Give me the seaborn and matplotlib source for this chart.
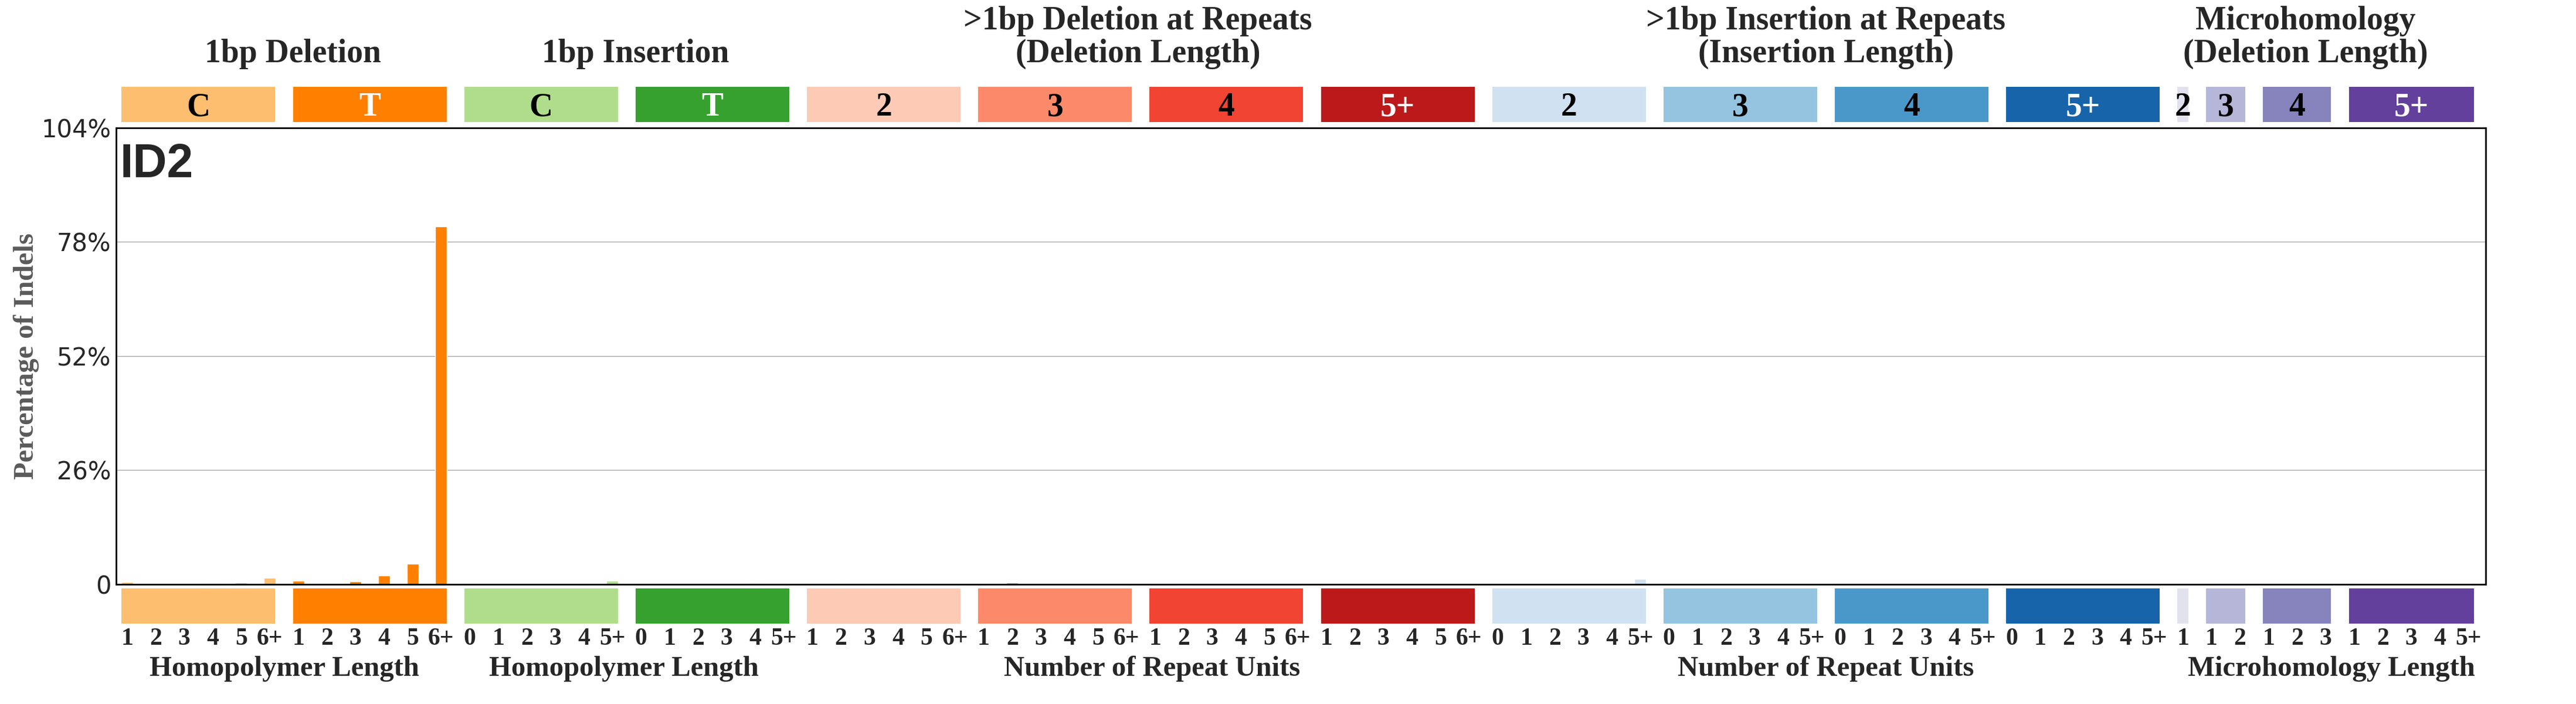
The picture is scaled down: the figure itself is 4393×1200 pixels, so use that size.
import numpy as np
import pandas as pd
import matplotlib
matplotlib.use('Agg')
import matplotlib.pyplot as plt
import matplotlib.transforms as mtransforms
from matplotlib.patches import Rectangle
import seaborn as sns

# === Datos (porcentaje de indels por canal, firma ID2) ===
del_1bp_C = [0.49, 0, 0, 0.22, 0.36, 1.42]
del_1bp_T = [0.76, 0, 0.62, 1.96, 4.62, 81.5]
ins_1bp_C = [0, 0, 0, 0, 0.13, 0.80]
ins_1bp_T = [0.05, 0, 0, 0.05, 0.27, 0.13]
del_rep_2 = [0, 0.27, 0.10, 0.10, 0.10, 0]
del_rep_3 = [0, 0.40, 0.13, 0, 0, 0]
del_rep_4 = [0, 0.13, 0, 0, 0, 0]
del_rep_5 = [0, 0.13, 0, 0, 0, 0]
ins_rep_2 = [0, 0, 0.07, 0, 0.07, 1.20]
ins_rep_3 = [0, 0.07, 0, 0, 0, 0.07]
ins_rep_4 = [0, 0.07, 0, 0, 0, 0.13]
ins_rep_5 = [0, 0, 0, 0, 0, 0]
mh_2 = [0]
mh_3 = [0, 0.13]
mh_4 = [0, 0, 0.07]
mh_5 = [0, 0, 0, 0, 0.13]

etiquetas_del = ['1', '2', '3', '4', '5', '6+']
etiquetas_ins = ['0', '1', '2', '3', '4', '5+']
etiquetas_mh = ['1', '2', '3', '4', '5+']

# grupos: (valores, color, etiqueta de la caja, color del texto, etiquetas eje x)
grupos = [
    (del_1bp_C, '#fdbe6f', 'C', 'black', etiquetas_del),
    (del_1bp_T, '#ff8001', 'T', 'white', etiquetas_del),
    (ins_1bp_C, '#b0dd8b', 'C', 'black', etiquetas_ins),
    (ins_1bp_T, '#36a12e', 'T', 'white', etiquetas_ins),
    (del_rep_2, '#fdcab5', '2', 'black', etiquetas_del),
    (del_rep_3, '#fc8a6a', '3', 'black', etiquetas_del),
    (del_rep_4, '#f14432', '4', 'black', etiquetas_del),
    (del_rep_5, '#bc191a', '5+', 'white', etiquetas_del),
    (ins_rep_2, '#d0e1f2', '2', 'black', etiquetas_ins),
    (ins_rep_3, '#94c4df', '3', 'black', etiquetas_ins),
    (ins_rep_4, '#4a98c9', '4', 'black', etiquetas_ins),
    (ins_rep_5, '#1764ab', '5+', 'white', etiquetas_ins),
    (mh_2, '#e2e2ef', '2', 'black', etiquetas_mh[:1]),
    (mh_3, '#b6b6d8', '3', 'black', etiquetas_mh[:2]),
    (mh_4, '#8683bd', '4', 'black', etiquetas_mh[:3]),
    (mh_5, '#62409b', '5+', 'white', etiquetas_mh),
]

titulos = [
    (5.8, ['1bp Deletion']),
    (17.8, ['1bp Insertion']),
    (35.4, ['>1bp Deletion at Repeats', '(Deletion Length)']),
    (59.5, ['>1bp Insertion at Repeats', '(Insertion Length)']),
    (76.3, ['Microhomology', '(Deletion Length)']),
]

etiquetas_inferiores = [
    (5.5, 'Homopolymer Length'),
    (17.4, 'Homopolymer Length'),
    (35.9, 'Number of Repeat Units'),
    (59.5, 'Number of Repeat Units'),
    (77.2, 'Microhomology Length'),
]

# === Tabla para seaborn ===
valores, colores, ticks = [], [], []
for vals, col, _, _, labs in grupos:
    valores += vals
    colores += [col] * len(vals)
    ticks += labs
pos = list(range(len(valores)))
claves = ['k%02d' % i for i in pos]
Datos = pd.DataFrame({'pos': pos, 'pct': valores, 'clave': claves})
paleta = dict(zip(claves, colores))

sns.set_style('white')
plt.rcParams['font.family'] = ['DejaVu Sans']
serif = 'Liberation Serif'

fig = plt.figure(figsize=(43.93, 12), dpi=100)
ax = fig.add_axes([0.045, 0.17, 0.92, 0.6486])

sns.barplot(data=Datos, x='pos', y='pct', hue='clave', palette=paleta,
            width=0.41, saturation=1, legend=False, ax=ax)

ax.set_xlim(-0.39, 82.61)
ax.set_ylim(0, 104)
ax.set_yticks([0, 26, 52, 78, 104], labels=['0', '26%', '52%', '78%', '104%'], fontsize=30)
ax.set_xticks(pos, labels=ticks, fontsize=30, fontweight='bold', family=serif)
ax.tick_params(axis='x', length=0, pad=53)
ax.tick_params(axis='y', length=0, pad=6)
ax.set_axisbelow(True)
ax.yaxis.grid(True, color='#a6a6a6', linewidth=1)
ax.xaxis.grid(False)
for sp in ax.spines.values():
    sp.set_visible(True)
    sp.set_color('black')
    sp.set_linewidth(2)

ax.set_xlabel('')
ax.set_ylabel('Percentage of Indels', fontsize=35, fontweight='bold',
              family=serif, color='#5a5a5a')
ax.yaxis.set_label_coords(-0.0324, 0.5)

ax.text(0.0017, 0.9675, 'ID2', transform=ax.transAxes, fontsize=58,
        fontweight='bold', family='Liberation Sans', va='top', ha='left')

# === Cajas de color arriba y abajo ===
trans = mtransforms.blended_transform_factory(ax.transData, fig.transFigure)
inicio = 0
for vals, col, lab, col_txt, _ in grupos:
    n = len(vals)
    x0 = inicio - 0.19
    ancho = n - 1 + 0.38
    for y0 in (0.8267, 0.1142):
        ax.add_patch(Rectangle((x0, y0), ancho, 0.05, transform=trans,
                               clip_on=False, facecolor=col, edgecolor='none'))
    ax.text(inicio + (n - 1) / 2, 1 - 197 / 1200, lab, transform=trans,
            ha='center', va='baseline', fontsize=40, fontweight='bold',
            family=serif, color=col_txt)
    inicio += n

# === Títulos ===
for xc, lineas in titulos:
    bases = [1 - 106 / 1200] if len(lineas) == 1 else [1 - 50 / 1200, 1 - 106 / 1200]
    for txt, yb in zip(lineas, bases):
        ax.text(xc, yb, txt, transform=trans, ha='center', va='baseline',
                fontsize=40, fontweight='bold', family=serif)

for xc, txt in etiquetas_inferiores:
    ax.text(xc, 1 - 1152 / 1200, txt, transform=trans, ha='center', va='baseline',
            fontsize=35, fontweight='bold', family=serif)

fig.savefig('out.png', dpi=100)
